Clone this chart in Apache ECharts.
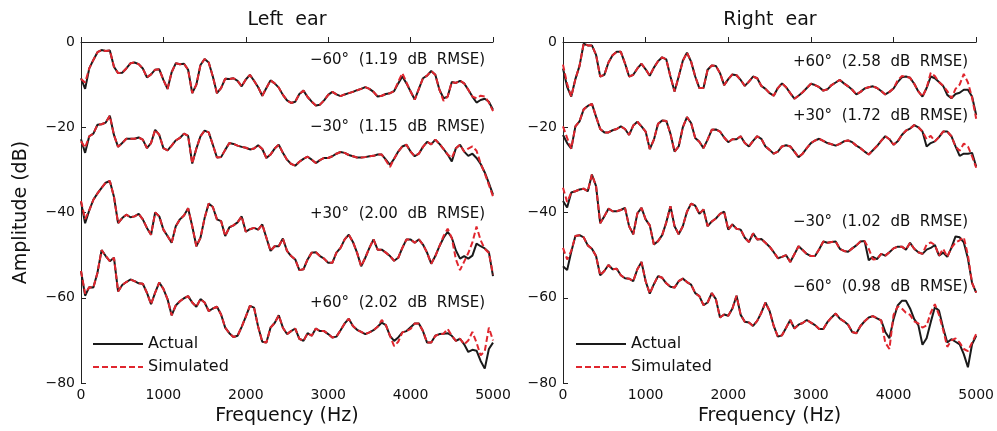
<!DOCTYPE html>
<html><head><meta charset="utf-8">
<script src="https://cdn.jsdelivr.net/npm/echarts@6/dist/echarts.min.js"></script>
<style>html,body{margin:0;padding:0;background:#fff}#c{width:997px;height:431px}</style>
</head><body><div id="c"></div><script>
// frequency grid (Hz), 50 Hz spacing
const freqs = [];
for (let f = 0; f <= 5000; f += 50) freqs.push(f);

// ---- Left ear ----
const leftM60Act = [-8.5,-11,-6.2,-4.2,-2.4,-1.9,-2.1,-2.0,-5.8,-7.3,-7.2,-6.2,-5.0,-4.8,-5.2,-6.2,-8.3,-7.6,-6.5,-6.4,-8.9,-11,-7.1,-5.0,-5.2,-5.1,-6.5,-12,-10,-5.4,-4.0,-4.8,-8.1,-12.0,-10.8,-8.6,-8.7,-8.5,-9.1,-10.4,-8.8,-7.7,-9.1,-10.6,-12.6,-10.8,-9.0,-9.7,-10.7,-12.4,-13.7,-14.3,-14.0,-12.2,-11.4,-12.9,-14.0,-14.9,-14.7,-13.7,-12.4,-11.7,-12.3,-12.7,-12.3,-12.0,-11.7,-11.3,-11.0,-10.6,-11.0,-11.7,-12.8,-12.6,-12.2,-12.0,-11.5,-9.7,-8.1,-9.7,-11.6,-13.5,-11.0,-8.5,-7.9,-6.8,-7.7,-11.2,-13.2,-12.8,-9.4,-9.6,-9.1,-9.7,-11.2,-12.8,-14.2,-13.6,-13.3,-14.0,-15.9];
const leftM60Sim = [-8.7,-9.5,-6.2,-4.2,-2.4,-1.9,-2.1,-2.0,-5.8,-7.3,-7.2,-6.2,-5.0,-4.8,-5.2,-6.2,-8.3,-7.6,-6.5,-6.4,-8.9,-11,-7.1,-5.0,-5.2,-5.1,-6.5,-12,-10,-5.4,-4.0,-4.8,-8.1,-12.0,-10.8,-8.6,-8.7,-8.5,-9.1,-10.4,-8.8,-7.7,-9.1,-10.6,-12.6,-10.8,-9.0,-9.7,-10.7,-12.4,-13.7,-14.3,-14.0,-12.2,-11.4,-12.9,-14.0,-14.9,-14.7,-13.7,-12.4,-11.7,-12.3,-12.7,-12.3,-12.0,-11.7,-11.3,-11.0,-10.6,-11.0,-11.7,-12.8,-12.6,-12.2,-12.0,-11.5,-9.3,-7.3,-9.5,-11.6,-13.5,-11.0,-8.5,-7.9,-6.8,-7.7,-11.2,-13.8,-12.8,-9.4,-9.6,-9.1,-9.7,-11.2,-12.8,-13.2,-12.6,-12.8,-14.2,-16.2];
const leftM30Act = [-22.8,-26,-22.1,-21.5,-19.4,-19.3,-18.9,-17.3,-21.8,-24.6,-23.7,-22.7,-22.7,-22.7,-22.4,-22.9,-24.9,-23.7,-20.6,-21.8,-24.9,-25.4,-24.3,-23.1,-22.5,-21.5,-22.0,-28.5,-25,-22.1,-20.8,-21.2,-24.1,-27.1,-27.0,-25.3,-23.7,-23.9,-24.3,-24.6,-24.8,-25.2,-25.0,-24.2,-25.1,-27.2,-26.4,-25.0,-24.1,-26.0,-27.6,-28.6,-29.0,-28.1,-27.4,-26.9,-27.6,-28.4,-27.7,-27.2,-27.2,-26.8,-26.2,-25.8,-26.0,-26.5,-26.8,-27.1,-27.1,-27.0,-26.8,-26.7,-26.4,-26.4,-27.6,-28.8,-27.4,-25.7,-24.5,-24.1,-25.7,-26.8,-26.2,-24.6,-23.4,-24.0,-22.9,-23.9,-25.1,-26.4,-28.0,-24.9,-24.1,-25.7,-26.7,-26.2,-27.2,-28.6,-30.6,-33.1,-35.8];
const leftM30Sim = [-23.3,-24.8,-22.1,-21.5,-19.4,-19.3,-18.9,-17.3,-21.8,-24.6,-23.7,-22.7,-22.7,-22.7,-22.4,-22.9,-24.9,-23.7,-20.6,-21.8,-24.9,-25.4,-24.3,-23.1,-22.5,-21.5,-22.0,-28.5,-25,-22.1,-20.8,-21.2,-24.1,-27.1,-27.0,-25.3,-23.7,-23.9,-24.3,-24.6,-24.8,-25.2,-25.0,-24.2,-25.1,-27.2,-26.4,-25.0,-24.1,-26.0,-27.6,-28.6,-29.0,-28.1,-27.4,-26.9,-27.6,-28.4,-27.7,-27.2,-27.2,-26.8,-26.2,-25.8,-26.0,-26.5,-26.8,-27.1,-27.1,-27.0,-26.8,-26.7,-26.4,-26.4,-27.8,-29.3,-27.4,-25.7,-24.5,-24.1,-25.7,-26.8,-26.2,-24.6,-23.4,-24.0,-22.9,-23.9,-25.1,-26.4,-27.2,-24.9,-24.1,-25.7,-25.0,-24.5,-25.5,-28.5,-30.8,-33.5,-36.2];
const leftP30Act = [-37.5,-42.5,-39.5,-37.0,-35.5,-34.2,-33.0,-32.6,-36.3,-42.5,-41.3,-40.5,-41.1,-40.9,-40.3,-41.6,-43.6,-45.2,-40.0,-40.9,-44.0,-45.5,-47.1,-43.2,-41.6,-40.7,-39.0,-43.2,-47.9,-45.9,-41.3,-37.9,-38.7,-41.6,-42.0,-45.5,-43.5,-43.0,-42.3,-40.9,-44.5,-43.9,-43.6,-44.0,-42.8,-45.9,-49.0,-47.9,-47.9,-46.1,-49.0,-50.2,-51.0,-53.5,-53.3,-51.0,-49.4,-49.3,-50.2,-50.8,-51.8,-51.8,-49.4,-48.3,-46.3,-45.2,-46.9,-49.4,-52.6,-50.6,-48.3,-46.3,-48.7,-48.7,-49.4,-50.2,-51.3,-50.6,-48.3,-46.3,-46.3,-47.1,-46.3,-47.5,-49.4,-52.0,-50.2,-47.9,-45.9,-44.5,-45.9,-48.9,-50.8,-50.2,-50.8,-50.1,-47.3,-47.9,-48.4,-49.3,-54.9];
const leftP30Sim = [-37.3,-41.5,-39.5,-37.0,-35.5,-34.2,-33.0,-32.6,-36.3,-42.5,-41.3,-40.5,-41.1,-40.9,-40.3,-41.6,-43.6,-45.2,-40.0,-40.9,-44.0,-45.5,-47.1,-43.2,-41.6,-40.7,-39.0,-43.2,-47.9,-45.9,-41.3,-37.9,-38.7,-41.6,-42.0,-45.5,-43.5,-43.0,-42.3,-40.9,-44.5,-43.9,-43.6,-44.0,-42.8,-45.9,-49.0,-47.9,-47.9,-46.1,-49.0,-50.2,-51.0,-53.5,-53.3,-51.0,-49.4,-49.3,-50.2,-50.8,-51.8,-51.8,-49.4,-48.3,-46.3,-45.2,-46.9,-49.4,-52.6,-50.6,-48.3,-46.3,-48.7,-48.7,-49.4,-50.2,-51.3,-50.6,-48.3,-46.3,-46.3,-47.1,-46.3,-47.5,-49.4,-52.0,-50.2,-47.9,-45.5,-43.8,-46.0,-51.0,-53.5,-51.5,-49.5,-47.0,-43.3,-46.5,-48.5,-49.5,-54.5];
const leftP60Act = [-53.7,-59.5,-57.5,-57.6,-54.1,-48.8,-50.2,-51.4,-50.6,-58.5,-57.0,-56.3,-55.7,-56.1,-56.6,-56.7,-58.8,-61.5,-58.8,-56.4,-57.9,-60.3,-64.1,-61.8,-60.8,-60.1,-59.6,-61.1,-62.1,-60.3,-61.1,-63.1,-62.5,-62.1,-63.9,-67.0,-68.3,-69.2,-68.9,-66.8,-64.4,-61.9,-62.3,-66.8,-70.3,-70.5,-67.0,-65.9,-64.1,-67.0,-68.5,-67.8,-67.2,-69.6,-70.1,-68.3,-68.9,-67.2,-67.8,-67.8,-68.5,-69.3,-69.1,-67.6,-66.0,-64.9,-66.6,-67.5,-68.0,-68.5,-68.1,-67.6,-66.8,-65.8,-66.4,-68.9,-70.1,-69.3,-68.1,-67.8,-66.9,-66.0,-66.0,-67.8,-70.5,-70.5,-68.9,-68.5,-68.4,-68.3,-68.9,-70.1,-69.6,-70.9,-72.7,-72.2,-72.4,-74.8,-76.6,-72.0,-70.5];
const leftP60Sim = [-53.7,-59.0,-57.5,-57.6,-54.1,-48.8,-50.2,-51.4,-50.6,-58.5,-57.0,-56.3,-55.7,-56.1,-56.6,-56.7,-58.8,-61.5,-58.8,-56.4,-57.9,-60.3,-64.1,-61.8,-60.8,-60.1,-59.6,-61.1,-62.1,-60.3,-61.1,-63.1,-62.5,-62.1,-63.9,-67.0,-68.3,-69.2,-68.9,-66.8,-64.4,-61.9,-62.3,-66.8,-70.3,-70.5,-67.0,-65.9,-64.1,-67.0,-68.5,-67.8,-67.2,-69.6,-70.1,-68.3,-68.9,-67.2,-67.8,-67.8,-68.5,-69.3,-69.1,-67.6,-66.0,-64.9,-66.6,-67.5,-68.0,-68.5,-68.1,-67.6,-66.8,-65.2,-66.4,-68.9,-71.3,-70.3,-68.1,-67.8,-67.3,-66.0,-66.0,-67.8,-70.5,-70.5,-68.9,-68.5,-68.4,-67.3,-68.9,-70.1,-69.6,-70.9,-70.0,-68.0,-70.5,-73.5,-72.5,-67.0,-70.0];

// ---- Right ear ----
const rightP60Act = [-6.2,-10.5,-12.8,-8.7,-5.6,-0.4,-0.8,-0.8,-3.0,-8.1,-7.7,-4.8,-3.1,-2.3,-2.3,-5.0,-8.1,-7.7,-6.2,-5.1,-6.4,-7.9,-6.0,-4.5,-3.6,-4.1,-8.1,-11.6,-8.1,-4.4,-2.5,-4.6,-8.1,-10.8,-10.8,-6.5,-5.5,-5.6,-7.3,-10.1,-8.7,-7.6,-7.8,-8.9,-10.3,-9.3,-8.1,-8.5,-10.3,-11.0,-12.0,-12.6,-10.8,-9.7,-10.6,-12.0,-13.3,-12.6,-11.8,-10.8,-9.8,-10.1,-10.6,-11.4,-11.1,-10.1,-9.5,-8.9,-9.7,-10.4,-11.2,-12.3,-11.7,-10.9,-10.6,-10.4,-10.8,-11.5,-12.3,-11.7,-10.9,-9.4,-8.3,-8.1,-8.4,-9.8,-11.6,-12.8,-10.8,-8.1,-8.5,-9.4,-10.3,-12.4,-13.2,-12.2,-11.9,-11.2,-11.2,-12.8,-17.1];
const rightP60Sim = [-5.3,-9.8,-12.8,-8.7,-5.6,-0.4,-0.8,-0.8,-3.0,-8.1,-7.7,-4.8,-3.1,-2.3,-2.3,-5.0,-8.1,-7.7,-6.2,-5.1,-6.4,-7.9,-6.0,-4.5,-3.6,-4.1,-8.1,-11.6,-8.1,-4.4,-2.5,-4.6,-8.1,-10.8,-10.8,-6.5,-5.5,-5.6,-7.3,-10.1,-8.7,-7.6,-7.8,-8.9,-10.3,-9.3,-8.1,-8.5,-10.3,-11.0,-12.0,-12.6,-10.8,-9.7,-10.6,-12.0,-13.3,-12.6,-11.8,-10.8,-9.8,-10.1,-10.6,-11.4,-11.1,-10.1,-9.5,-8.9,-9.7,-10.4,-11.2,-12.3,-11.7,-10.9,-10.6,-10.4,-10.8,-11.5,-12.3,-11.7,-10.9,-9.0,-8.0,-8.1,-8.4,-9.8,-11.6,-12.8,-10.8,-7.2,-8.0,-9.4,-10.3,-11.5,-13.2,-11.0,-10.0,-7.5,-9.5,-13.0,-18.0];
const rightP30Act = [-21.8,-23.7,-25.0,-19.8,-18.6,-15.8,-15.0,-14.5,-17.5,-20.4,-21.2,-21.2,-20.7,-20.4,-19.8,-20.4,-21.8,-19.6,-18.7,-19.8,-21.0,-25.1,-22.9,-19.2,-18.4,-18.5,-21.5,-25.7,-24.5,-20.0,-17.6,-19.0,-22.5,-23.4,-24.9,-22.9,-20.6,-20.5,-21.0,-22.4,-23.5,-22.8,-22.8,-22.1,-23.7,-24.5,-23.2,-22.1,-22.7,-24.5,-25.3,-26.2,-25.7,-24.5,-24.2,-24.5,-25.7,-27.0,-26.2,-24.9,-23.7,-23.1,-22.7,-23.2,-23.7,-24.0,-24.3,-23.9,-23.3,-23.1,-23.5,-24.3,-24.9,-25.7,-26.4,-25.4,-24.4,-23.2,-22.1,-22.8,-24.1,-23.3,-21.8,-20.8,-20.3,-19.5,-20.0,-21.0,-24.5,-23.7,-23.3,-22.3,-21.0,-21.0,-22.1,-24.5,-26.7,-26.2,-26.2,-26.0,-29.2];
const rightP30Sim = [-19.8,-22.5,-25.0,-19.8,-18.6,-15.8,-15.0,-14.5,-17.5,-20.4,-21.2,-21.2,-20.7,-20.4,-19.8,-20.4,-21.8,-19.6,-18.7,-19.8,-21.0,-25.1,-22.9,-19.2,-18.4,-18.5,-21.5,-25.7,-24.5,-20.0,-17.6,-19.0,-22.5,-23.4,-24.9,-22.9,-20.6,-20.5,-21.0,-22.4,-23.5,-22.8,-22.8,-22.1,-23.7,-24.5,-23.2,-22.1,-22.7,-24.5,-25.3,-26.2,-25.7,-24.5,-24.2,-24.5,-25.7,-27.0,-26.2,-24.9,-23.7,-23.1,-22.7,-23.2,-23.7,-24.0,-24.3,-23.9,-23.3,-23.1,-23.5,-24.3,-24.9,-25.7,-26.4,-25.4,-24.4,-23.2,-22.1,-22.8,-24.1,-23.3,-21.8,-20.8,-20.3,-19.5,-20.0,-21.0,-22.8,-22.0,-23.3,-22.3,-21.0,-21.0,-22.1,-24.5,-25.5,-23.8,-24.5,-26.8,-29.5];
const rightM30Act = [-37.3,-38.8,-35.3,-35.0,-34.6,-34.4,-35.0,-31.1,-33.8,-42.5,-40.9,-39.1,-39.7,-39.7,-39.4,-38.9,-43.2,-45.1,-40.2,-38.9,-41.6,-43.0,-47.5,-46.7,-45.3,-42.3,-38.5,-43.2,-45.1,-43.2,-39.8,-37.9,-38.4,-40.3,-39.3,-43.2,-42.1,-41.4,-40.3,-39.8,-44.0,-42.8,-43.8,-44.0,-45.9,-46.9,-44.9,-46.3,-46.2,-47.1,-48.0,-49.3,-50.7,-50.4,-50.0,-51.6,-49.8,-47.9,-48.8,-49.7,-50.2,-50.2,-48.6,-46.8,-47.1,-46.9,-46.8,-48.5,-49.0,-49.2,-48.4,-47.7,-46.8,-46.7,-51.2,-50.4,-50.9,-49.7,-50.1,-49.3,-48.4,-48.0,-48.0,-48.7,-47.1,-48.5,-49.3,-49.7,-48.7,-48.3,-47.6,-50.1,-49.4,-50.4,-48.3,-45.6,-45.8,-47.0,-50.8,-56.5,-58.8];
const rightM30Sim = [-34.2,-37.5,-35.3,-35.0,-34.6,-34.4,-35.0,-31.1,-33.8,-42.5,-40.9,-39.1,-39.7,-39.7,-39.4,-38.9,-43.2,-45.1,-40.2,-38.9,-41.6,-43.0,-47.5,-46.7,-45.3,-42.3,-38.5,-43.2,-45.1,-43.2,-39.8,-37.9,-38.4,-40.3,-39.3,-43.2,-42.1,-41.4,-40.3,-39.8,-44.0,-42.8,-43.8,-44.0,-45.9,-46.9,-44.9,-46.3,-46.2,-47.1,-48.0,-49.3,-50.7,-50.4,-50.0,-51.6,-49.8,-47.9,-48.8,-49.7,-50.2,-50.2,-48.6,-46.8,-47.1,-46.9,-46.8,-48.5,-49.0,-49.2,-48.4,-47.7,-46.8,-46.7,-48.5,-51.0,-50.9,-49.7,-50.1,-49.3,-48.4,-48.0,-48.0,-48.7,-47.1,-48.5,-49.3,-49.7,-47.5,-47.0,-47.6,-50.1,-48.5,-50.4,-48.3,-47.0,-46.5,-45.8,-50.0,-56.5,-58.8];
const rightM60Act = [-52.6,-53.5,-49.2,-45.5,-45.3,-45.8,-47.7,-48.5,-50.2,-54.7,-53.7,-52.3,-53.3,-53.2,-54.7,-55.4,-55.5,-56.1,-53.3,-51.6,-56.1,-59.0,-56.8,-54.9,-55.3,-56.6,-57.4,-57.6,-56.1,-55.5,-56.3,-56.9,-58.9,-59.6,-61.7,-61.1,-58.9,-60.3,-64.6,-63.9,-64.2,-62.5,-59.5,-64.0,-65.6,-65.8,-66.6,-65.4,-63.5,-61.1,-63.1,-66.6,-69.1,-68.8,-67.0,-65.2,-67.2,-66.3,-65.9,-65.2,-65.8,-66.4,-67.3,-67.3,-65.7,-64.6,-63.7,-64.9,-65.5,-66.3,-68.0,-68.3,-66.6,-65.5,-64.6,-64.3,-64.8,-65.3,-68.0,-69.5,-65.0,-61.8,-60.7,-60.7,-62.5,-65.0,-66.4,-71.0,-69.5,-65.7,-62.2,-63.0,-67.0,-70.5,-69.7,-70.3,-70.9,-73.2,-76.3,-70.9,-68.9];
const rightM60Sim = [-48.3,-51.0,-49.0,-45.5,-45.3,-45.8,-47.7,-48.5,-50.2,-54.7,-53.7,-52.3,-53.3,-53.2,-54.7,-55.4,-55.5,-56.1,-53.3,-51.6,-56.1,-59.0,-56.8,-54.9,-55.3,-56.6,-57.4,-57.6,-56.1,-55.5,-56.3,-56.9,-58.9,-59.6,-61.7,-61.1,-58.9,-60.3,-64.6,-63.9,-64.2,-62.5,-59.5,-64.0,-65.6,-65.8,-66.6,-65.4,-63.5,-61.1,-63.1,-66.6,-69.1,-68.8,-67.0,-65.2,-67.2,-66.3,-65.9,-65.2,-65.8,-66.4,-67.3,-67.3,-65.7,-64.6,-63.7,-64.9,-65.5,-66.3,-68.0,-68.3,-66.6,-65.5,-64.6,-64.3,-64.8,-65.3,-70.5,-72.0,-64.0,-62.0,-62.5,-63.5,-64.0,-65.5,-66.0,-67.0,-66.5,-63.5,-61.5,-64.0,-67.5,-71.5,-70.0,-69.5,-70.5,-72.0,-72.5,-70.5,-68.5];

const FONT = 'DejaVu Sans';
const angleLabelsLeft = ['\u221260\u00b0  (1.19  dB  RMSE)', '\u221230\u00b0  (1.15  dB  RMSE)', '+30\u00b0  (2.00  dB  RMSE)', '+60\u00b0  (2.02  dB  RMSE)'];
const angleLabelsRight = ['+60\u00b0  (2.58  dB  RMSE)', '+30\u00b0  (1.72  dB  RMSE)', '\u221230\u00b0  (1.02  dB  RMSE)', '\u221260\u00b0  (0.98  dB  RMSE)'];

const chart = echarts.init(document.getElementById('c'), null, {renderer: 'canvas'});

function pairs(arr) { return freqs.map((f, i) => [f, arr[i]]); }
function act(arr, g) {
  return {type: 'line', name: 'Actual', xAxisIndex: g, yAxisIndex: g, data: pairs(arr),
    symbol: 'none', showSymbol: false, z: 2, silent: true,
    lineStyle: {color: '#1a1a1a', width: 2}, itemStyle: {color: '#1a1a1a'}};
}
function sim(arr, g) {
  return {type: 'line', name: 'Simulated', xAxisIndex: g, yAxisIndex: g, data: pairs(arr),
    symbol: 'none', showSymbol: false, z: 3, silent: true,
    lineStyle: {color: '#e0262e', width: 2, type: [6, 3]}, itemStyle: {color: '#e0262e'}};
}
function xAx(g) {
  return {type: 'value', gridIndex: g, min: 0, max: 5000, interval: 1000,
    name: 'Frequency (Hz)', nameLocation: 'middle', nameGap: 19,
    nameTextStyle: {fontFamily: FONT, fontSize: 19, color: '#111'},
    axisLine: {show: true, lineStyle: {color: '#222', width: 1}},
    axisTick: {show: true, inside: true, length: 5, lineStyle: {color: '#222'}},
    axisLabel: {fontFamily: FONT, fontSize: 14, color: '#111', margin: 5, formatter: v => String(v)},
    splitLine: {show: false}};
}
function yAx(g, withName) {
  return {type: 'value', gridIndex: g, min: -80, max: 0, interval: 20,
    name: withName ? 'Amplitude (dB)' : '', nameLocation: 'middle', nameGap: 50, nameRotate: 90,
    nameTextStyle: {fontFamily: FONT, fontSize: 19, color: '#111'},
    axisLine: {show: true, onZero: false, lineStyle: {color: '#222', width: 1}},
    axisTick: {show: true, inside: true, length: 5, lineStyle: {color: '#222'}},
    axisLabel: {fontFamily: FONT, fontSize: 14, color: '#111', margin: 6,
      formatter: v => String(v).replace('-', '\u2212')},
    splitLine: {show: false}};
}
function txt(s, x, y, align, size) {
  return {type: 'text', x: x, y: y, silent: true,
    style: {text: s, align: align, verticalAlign: 'middle', fill: '#111', font: size + 'px "' + FONT + '"'}};
}
function legend(left) {
  return {orient: 'vertical', left: left, top: 331, itemWidth: 50, itemHeight: 12, itemGap: 7,
    selectedMode: false, textStyle: {fontFamily: FONT, fontSize: 16, color: '#111'},
    itemStyle: {opacity: 0},
    data: [{name: 'Actual'}, {name: 'Simulated'}]};
}

chart.setOption({
  animation: false,
  backgroundColor: '#fff',
  grid: [{left: 81, top: 42, width: 412, height: 342}, {left: 563, top: 42, width: 415, height: 342}],
  xAxis: [xAx(0), xAx(1)],
  yAxis: [yAx(0, true), yAx(1, false)],
  legend: [legend(87), legend(570)],
  graphic: [
    txt('Left  ear', 287, 20, 'center', 19),
    txt('Right  ear', 770, 20, 'center', 19),
    txt(angleLabelsLeft[0], 485, 60, 'right', 15),
    txt(angleLabelsLeft[1], 485, 127, 'right', 15),
    txt(angleLabelsLeft[2], 485, 214, 'right', 15),
    txt(angleLabelsLeft[3], 485, 303, 'right', 15),
    txt(angleLabelsRight[0], 968, 62, 'right', 15),
    txt(angleLabelsRight[1], 968, 116, 'right', 15),
    txt(angleLabelsRight[2], 968, 222, 'right', 15),
    txt(angleLabelsRight[3], 968, 287, 'right', 15)
  ],
  series: [
    act(leftM60Act, 0), act(leftM30Act, 0), act(leftP30Act, 0), act(leftP60Act, 0),
    sim(leftM60Sim, 0), sim(leftM30Sim, 0), sim(leftP30Sim, 0), sim(leftP60Sim, 0),
    act(rightP60Act, 1), act(rightP30Act, 1), act(rightM30Act, 1), act(rightM60Act, 1),
    sim(rightP60Sim, 1), sim(rightP30Sim, 1), sim(rightM30Sim, 1), sim(rightM60Sim, 1)
  ]
});
</script></body></html>
